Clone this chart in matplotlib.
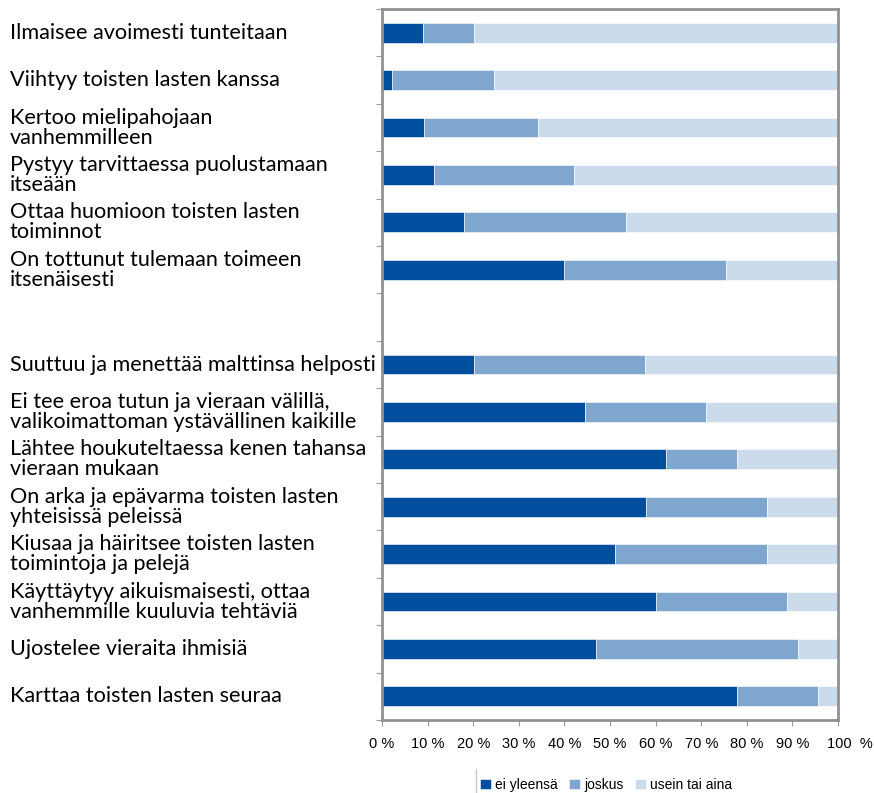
import matplotlib
matplotlib.use("Agg")
import matplotlib.pyplot as plt
import matplotlib.transforms as mtransforms
from matplotlib.lines import Line2D

# Item labels, top to bottom; None leaves an empty row between the two groups
items = [
    "Ilmaisee avoimesti tunteitaan",
    "Viihtyy toisten lasten kanssa",
    "Kertoo mielipahojaan\nvanhemmilleen",
    "Pystyy tarvittaessa puolustamaan\nitseään",
    "Ottaa huomioon toisten lasten\ntoiminnot",
    "On tottunut tulemaan toimeen\nitsenäisesti",
    None,
    "Suuttuu ja menettää malttinsa helposti",
    "Ei tee eroa tutun ja vieraan välillä,\nvalikoimattoman ystävällinen kaikille",
    "Lähtee houkuteltaessa kenen tahansa\nvieraan mukaan",
    "On arka ja epävarma toisten lasten\nyhteisissä peleissä",
    "Kiusaa ja häiritsee toisten lasten\ntoimintoja ja pelejä",
    "Käyttäytyy aikuismaisesti, ottaa\nvanhemmille kuuluvia tehtäviä",
    "Ujostelee vieraita ihmisiä",
    "Karttaa toisten lasten seuraa",
]

# Shares (%) per answer, same order as items (None rows skipped)
ei_yleensa = [9.0, 2.3, 9.2, 11.3, 17.9, 40.0, None, 20.1, 44.5, 62.3, 57.8, 51.2, 60.0, 46.9, 77.9]
joskus = [11.1, 22.2, 25.0, 30.9, 35.5, 35.5, None, 37.6, 26.6, 15.6, 26.6, 33.2, 28.8, 44.3, 17.7]
usein = [79.6, 75.2, 65.5, 57.5, 46.3, 24.2, None, 42.0, 28.6, 21.8, 15.3, 15.3, 10.9, 8.5, 4.1]

series_names = ["ei yleensä", "joskus", "usein tai aina"]
colors = ["#004E9E", "#7FA6CF", "#CCDBEB"]
xticks = list(range(0, 101, 10))
xtick_labels = [f"{t} %" for t in xticks[:-1]] + ["100  %"]

fig = plt.figure(figsize=(8.74, 7.93), dpi=100)
ax = fig.add_axes([382 / 874, 1 - 720 / 793, 456 / 874, 711 / 793])

rows = [i for i, lab in enumerate(items) if lab is not None]
left = [0.0] * len(items)
for name, vals, col in zip(series_names, [ei_yleensa, joskus, usein], colors):
    ws = [vals[i] for i in rows]
    ls = [left[i] for i in rows]
    ax.barh(rows, ws, left=ls, height=0.42, color=col, edgecolor="white",
            linewidth=0.4, label=name)
    for i in rows:
        left[i] += vals[i]

ax.set_xlim(0, 100)
ax.set_ylim(len(items) - 0.5, -0.5)
ax.set_xticks(xticks)
ax.set_xticklabels(xtick_labels, family="Liberation Sans", fontsize=10.5)
ax.tick_params(axis="x", direction="out", length=4, width=0.8, color="#9a9a9a", pad=8)
# the last label sits a little right of its tick
last = ax.get_xticklabels()[-1]
last.set_transform(last.get_transform() +
                   mtransforms.ScaledTranslation(12 / 100, 0, fig.dpi_scale_trans))
ax.set_yticks([i + 0.5 for i in range(-1, len(items))])
ax.set_yticklabels([])
ax.tick_params(axis="y", direction="out", length=4, width=0.8, color="#9a9a9a")
for sp in ax.spines.values():
    sp.set_color("#909096")
    sp.set_linewidth(2)

# category labels, left aligned at the figure edge
trans = mtransforms.blended_transform_factory(fig.transFigure, ax.transData)
for i in rows:
    ax.text(10 / 874, i, items[i], transform=trans, ha="left", va="center",
            family="Lato", fontsize=15.6, linespacing=1.0, color="#000000",
            clip_on=False)

fig.legend(loc="center", bbox_to_anchor=(606 / 874, 1 - 785 / 793),
           ncol=3, frameon=False, prop={"family": "Liberation Sans", "size": 10},
           handlelength=0.8, handleheight=0.8, handletextpad=0.3,
           columnspacing=0.8)
fig.add_artist(Line2D([476 / 874, 476 / 874], [0, 1 - 769 / 793],
                      transform=fig.transFigure, color="#c8c8c8", lw=1))

fig.savefig("out.png", dpi=100)
